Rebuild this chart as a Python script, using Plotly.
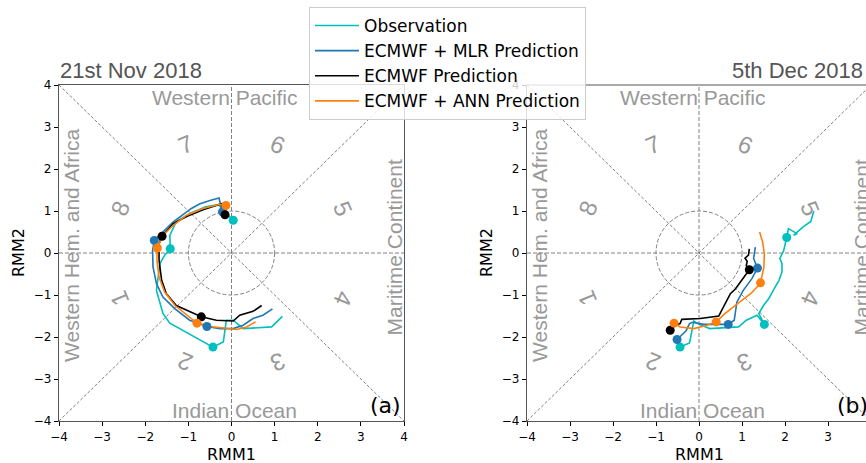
import plotly.graph_objects as go

W, H = 866, 463

# ---------------- data: panel (a) 21st Nov 2018 ----------------
obs_a_x = [0.04, -0.10, -0.30, -0.60, -0.95, -1.28, -1.43, -1.42, -1.55, -1.66, -1.74, -1.59, -1.43, -1.00, -0.60, -0.43, -0.19, -0.12, 0.04, 0.27, 0.93, 1.18]
obs_a_y = [0.78, 0.92, 1.15, 1.10, 0.95, 0.75, 0.42, 0.10, -0.05, -0.25, -0.89, -1.44, -1.67, -1.92, -2.14, -2.24, -2.12, -1.60, -1.60, -1.80, -1.76, -1.51]
obs_a_dot_x = [0.04, -1.42, -0.43]
obs_a_dot_y = [0.78, 0.10, -2.24]

mlr_a_x = [-0.21, -0.27, -0.29, -0.50, -0.73, -0.93, -1.15, -1.35, -1.51, -1.66, -1.79, -1.83, -1.82, -1.74, -1.59, -1.31, -0.97, -0.57, -0.27, 0.04, 0.27, 0.50, 0.73, 0.95]
mlr_a_y = [0.98, 1.29, 1.31, 1.25, 1.17, 1.06, 0.90, 0.74, 0.58, 0.42, 0.30, 0.06, -0.33, -0.73, -1.05, -1.33, -1.60, -1.75, -1.80, -1.80, -1.72, -1.56, -1.48, -1.33]
mlr_a_dot_x = [-0.21, -1.79, -0.57]
mlr_a_dot_y = [0.98, 0.30, -1.75]

ecm_a_x = [-0.15, -0.23, -0.66, -1.04, -1.35, -1.51, -1.61, -1.68, -1.68, -1.62, -1.51, -1.28, -0.97, -0.70, -0.35, 0.04, 0.19, 0.50, 0.70]
ecm_a_y = [0.91, 1.17, 1.03, 0.87, 0.70, 0.50, 0.40, 0.22, -0.17, -0.65, -0.97, -1.25, -1.40, -1.52, -1.60, -1.62, -1.48, -1.39, -1.25]
ecm_a_dot_x = [-0.15, -1.61, -0.70]
ecm_a_dot_y = [0.91, 0.40, -1.52]

ann_a_x = [-0.13, -0.27, -0.66, -1.04, -1.35, -1.59, -1.72, -1.73, -1.68, -1.55, -1.31, -1.04, -0.80, -0.50, -0.12, 0.12, 0.35, 0.56]
ann_a_y = [1.13, 1.16, 1.06, 0.90, 0.66, 0.42, 0.12, -0.17, -0.57, -0.93, -1.25, -1.48, -1.67, -1.75, -1.80, -1.82, -1.76, -1.64]
ann_a_dot_x = [-0.13, -1.72, -0.80]
ann_a_dot_y = [1.13, 0.12, -1.67]

# ---------------- data: panel (b) 5th Dec 2018 ----------------
obs_b_x = [-0.44, -0.22, -0.12, 0.00, 0.25, 0.60, 0.92, 1.10, 1.35, 1.52, 1.39, 1.50, 1.62, 1.75, 1.86, 1.93, 1.93, 1.88, 1.97, 2.04, 2.08, 2.28, 2.20, 2.42, 2.60, 2.67]
obs_b_y = [-2.24, -2.14, -1.62, -1.70, -1.80, -1.78, -1.76, -1.60, -1.48, -1.70, -1.44, -1.25, -1.09, -0.85, -0.65, -0.45, -0.25, -0.13, 0.06, 0.37, 0.58, 0.46, 0.42, 0.62, 0.75, 1.00]
obs_b_dot_x = [-0.44, 1.52, 2.04]
obs_b_dot_y = [-2.24, -1.70, 0.37]

mlr_b_x = [-0.51, -0.40, -0.30, -0.22, -0.15, 0.10, 0.40, 0.68, 0.82, 0.88, 1.03, 1.23, 1.36, 1.27, 1.31]
mlr_b_y = [-2.06, -1.95, -1.85, -1.68, -1.65, -1.70, -1.70, -1.70, -1.60, -1.17, -0.89, -0.61, -0.36, -0.13, 0.14]
mlr_b_dot_x = [-0.51, 0.68, 1.36]
mlr_b_dot_y = [-2.06, -1.70, -0.36]

ecm_b_x = [-0.67, -0.55, -0.44, -0.40, 0.03, 0.46, 0.50, 0.61, 0.73, 0.85, 0.96, 1.10, 1.17, 1.10, 1.12, 1.07, 1.15, 1.17]
ecm_b_y = [-1.84, -1.72, -1.68, -1.58, -1.56, -1.50, -1.42, -1.21, -0.97, -0.85, -0.69, -0.50, -0.40, -0.30, -0.20, -0.12, -0.05, 0.10]
ecm_b_dot_x = [-0.67, 1.17]
ecm_b_dot_y = [-1.84, -0.40]

ann_b_x = [-0.58, -0.44, -0.12, 0.19, 0.40, 0.61, 0.89, 1.20, 1.39, 1.43, 1.51, 1.52, 1.48, 1.41]
ann_b_y = [-1.67, -1.76, -1.80, -1.72, -1.64, -1.44, -1.21, -0.97, -0.77, -0.71, -0.33, -0.02, 0.26, 0.50]
ann_b_dot_x = [-0.58, 0.40, 1.43]
ann_b_dot_y = [-1.67, -1.64, -0.71]

series_names = ["Observation", "ECMWF + MLR Prediction", "ECMWF Prediction", "ECMWF + ANN Prediction"]
series_colors = ["#00bfbf", "#1f77b4", "#000000", "#ff7f0e"]

panel_titles = ["21st Nov 2018", "5th Dec 2018"]
panel_tags = ["(a)", "(b)"]
tick_vals = [-4, -3, -2, -1, 0, 1, 2, 3, 4]

phase_nums = ["1", "2", "3", "4", "5", "6", "7", "8"]
phase_x = [-2.59, -1.07, 1.07, 2.59, 2.59, 1.07, -1.07, -2.59]
phase_y = [-1.07, -2.59, -2.59, -1.07, 1.07, 2.59, 2.59, 1.07]
phase_rot = [-112.5, -157.5, 157.5, 112.5, 67.5, 22.5, -22.5, -67.5]

panels = [
    dict(lines=[(obs_a_x, obs_a_y), (mlr_a_x, mlr_a_y), (ecm_a_x, ecm_a_y), (ann_a_x, ann_a_y)],
         dots=[(obs_a_dot_x, obs_a_dot_y), (mlr_a_dot_x, mlr_a_dot_y), (ecm_a_dot_x, ecm_a_dot_y), (ann_a_dot_x, ann_a_dot_y)]),
    dict(lines=[(obs_b_x, obs_b_y), (mlr_b_x, mlr_b_y), (ecm_b_x, ecm_b_y), (ann_b_x, ann_b_y)],
         dots=[(obs_b_dot_x, obs_b_dot_y), (mlr_b_dot_x, mlr_b_dot_y), (ecm_b_dot_x, ecm_b_dot_y), (ann_b_dot_x, ann_b_dot_y)]),
]

# ---------------- layout geometry (pixels) ----------------
def px_x(p):
    return p / W

def px_y(p):
    return 1 - p / H

ax_top, ax_bot = 85, 421
dom_a = [px_x(59), px_x(404)]
dom_b = [px_x(527), 1.0]
range_b_right = -4 + (W - 527) / 43.0
ydom = [px_y(ax_bot), px_y(ax_top)]

fig = go.Figure()

axrefs = [("x", "y"), ("x2", "y2")]
for pi, panel in enumerate(panels):
    xr, yr = axrefs[pi]
    for si in range(4):
        lx, ly = panel["lines"][si]
        fig.add_trace(go.Scatter(x=lx, y=ly, mode="lines", name=series_names[si],
                                 line=dict(color=series_colors[si], width=1.6),
                                 xaxis=xr, yaxis=yr, showlegend=(pi == 0)))
    for si in range(4):
        dx, dy = panel["dots"][si]
        fig.add_trace(go.Scatter(x=dx, y=dy, mode="markers", name=series_names[si],
                                 marker=dict(color=series_colors[si], size=9),
                                 xaxis=xr, yaxis=yr, showlegend=False))

shapes = []
annotations = []
guide = "#808080"
region_font = dict(family="Liberation Sans, Arial, sans-serif", size=21, color="#999999")
for pi in range(2):
    xr, yr = axrefs[pi]
    shapes += [
        dict(type="line", xref=xr, yref=yr, x0=-4, x1=4, y0=0, y1=0, layer="below",
             line=dict(color=guide, width=1, dash="4px,2px")),
        dict(type="line", xref=xr, yref=yr, x0=0, x1=0, y0=-4, y1=4, layer="below",
             line=dict(color=guide, width=1, dash="4px,2px")),
        dict(type="line", xref=xr, yref=yr, x0=-4, x1=4, y0=-4, y1=4, layer="below",
             line=dict(color="#707070", width=0.9, dash="3px,2px")),
        dict(type="line", xref=xr, yref=yr, x0=-4, x1=4, y0=4, y1=-4, layer="below",
             line=dict(color="#707070", width=0.9, dash="3px,2px")),
        dict(type="circle", xref=xr, yref=yr, x0=-1, x1=1, y0=-1, y1=1, layer="below",
             line=dict(color=guide, width=1, dash="4px,2px")),
    ]
    annotations += [
        dict(text="Western Pacific", x=-0.15, y=3.71, xref=xr, yref=yr, showarrow=False, font=region_font),
        dict(text="Indian Ocean", x=0.07, y=-3.75, xref=xr, yref=yr, showarrow=False, font=region_font),
        dict(text="Western Hem. and Africa", x=-3.71, y=0.18, xref=xr, yref=yr, showarrow=False,
             textangle=-90, font=region_font),
        dict(text="Maritime Continent", x=3.78, y=0.12, xref=xr, yref=yr, showarrow=False,
             textangle=-90, font=region_font),
    ]
    for k in range(8):
        annotations.append(dict(text=phase_nums[k], x=phase_x[k], y=phase_y[k], xref=xr, yref=yr,
                                showarrow=False, textangle=phase_rot[k],
                                font=dict(family="Liberation Sans, Arial, sans-serif", size=24, color="#999999")))
    annotations.append(dict(text=panel_tags[pi], x=3.56, y=-3.62, xref=xr, yref=yr, showarrow=False,
                            font=dict(family="DejaVu Sans", size=22, color="#000000")))
    annotations.append(dict(text="RMM1", x=0, xref=xr, y=px_y(454), yref="paper", showarrow=False,
                            xanchor="center", yanchor="middle",
                            font=dict(family="DejaVu Sans", size=16, color="#000000")))

annotations.append(dict(text="RMM2", x=px_x(18), xref="paper", y=0, yref="y", showarrow=False,
                        xanchor="center", yanchor="middle", textangle=-90,
                        font=dict(family="DejaVu Sans", size=16, color="#000000")))
annotations.append(dict(text="RMM2", x=px_x(486), xref="paper", y=0, yref="y2", showarrow=False,
                        xanchor="center", yanchor="middle", textangle=-90,
                        font=dict(family="DejaVu Sans", size=16, color="#000000")))

title_font = dict(family="Liberation Sans, Arial, sans-serif", size=22, color="#555555")
annotations.append(dict(text=panel_titles[0], x=px_x(58), y=px_y(70), xref="paper", yref="paper",
                        xanchor="left", yanchor="middle", showarrow=False, font=title_font))
annotations.append(dict(text=panel_titles[1], x=px_x(865), y=px_y(70), xref="paper", yref="paper",
                        xanchor="right", yanchor="middle", showarrow=False, font=title_font))

# top spine of panel (b) (its right side is cut off by the picture edge)
spine = "#555555"
shapes.append(dict(type="line", xref="paper", yref="paper", x0=dom_b[0], x1=1.0,
                   y0=ydom[1], y1=ydom[1], line=dict(color=spine, width=1.2)))

axis_common = dict(tickvals=tick_vals, ticks="outside", ticklen=4, tickcolor="#000000",
                   tickfont=dict(family="DejaVu Sans", size=12, color="#000000"),
                   showgrid=False, zeroline=False, showline=True, linecolor=spine, linewidth=1.2,
                   automargin=False)

fig.update_layout(
    width=W, height=H,
    margin=dict(l=0, r=0, t=0, b=0),
    paper_bgcolor="white", plot_bgcolor="white",
    xaxis=dict(domain=dom_a, range=[-4, 4], anchor="y", mirror=True, **axis_common),
    yaxis=dict(domain=ydom, range=[-4, 4], anchor="x", mirror=True, **axis_common),
    xaxis2=dict(domain=dom_b, range=[-4, range_b_right], anchor="y2", mirror=False, **axis_common),
    yaxis2=dict(domain=ydom, range=[-4, 4], anchor="x2", mirror=False, **axis_common),
    shapes=shapes,
    annotations=annotations,
    legend=dict(x=px_x(309), y=px_y(7), xanchor="left", yanchor="top",
                bgcolor="rgba(255,255,255,0.8)", bordercolor="#cccccc", borderwidth=1,
                font=dict(family="DejaVu Sans", size=17, color="#000000"),
                itemwidth=44, tracegroupgap=0),
    showlegend=True,
)

fig.write_html("out.html", config={"displayModeBar": False},
               post_script="document.body.style.margin='0px';document.body.style.overflow='hidden';")
